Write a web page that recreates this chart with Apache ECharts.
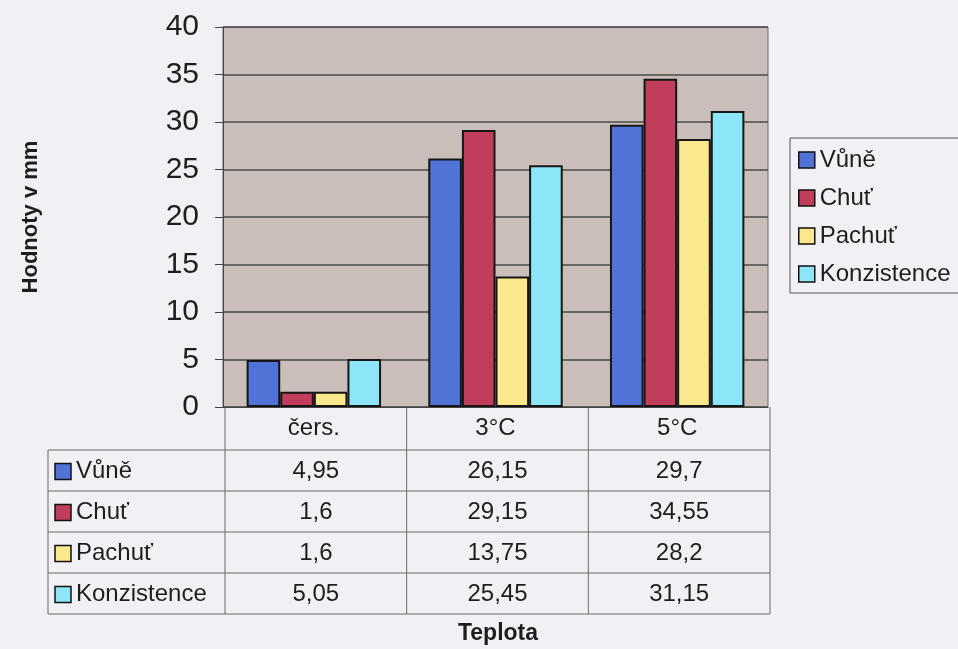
<!DOCTYPE html>
<html>
<head>
<meta charset="utf-8">
<script src="https://cdn.jsdelivr.net/npm/echarts@6/dist/echarts.min.js"></script>
<style>
  html, body { margin: 0; padding: 0; background: #f1f1f5; }
  #chart { width: 958px; height: 649px; }
</style>
</head>
<body>
<div id="chart"></div>
<script>
// Sensory scores by storage temperature
const categories = ['čers.', '3°C', '5°C'];
const seriesNames = ['Vůně', 'Chuť', 'Pachuť', 'Konzistence'];
const vune = [4.95, 26.15, 29.7];
const chut = [1.6, 29.15, 34.55];
const pachut = [1.6, 13.75, 28.2];
const konzistence = [5.05, 25.45, 31.15];
const yMin = 0, yMax = 40, yStep = 5;
const yTitle = 'Hodnoty v mm';
const xTitle = 'Teplota';

const seriesValues = [vune, chut, pachut, konzistence];
const colors = ['#5073d8', '#c03d5c', '#fbe78c', '#8ce6f8'];
const FONT = '"Liberation Sans", Arial, sans-serif';
const INK = '#1e1e1e';

const chart = echarts.init(document.getElementById('chart'), null, { renderer: 'canvas' });

const gridBox = { left: 223, top: 27, width: 545, height: 380 };

const option = {
  backgroundColor: '#f1f1f5',
  animation: false,
  grid: {
    left: gridBox.left, top: gridBox.top, width: gridBox.width, height: gridBox.height,
    show: true, backgroundColor: '#c9beb9', borderColor: '#6d6d6d', borderWidth: 1
  },
  legend: {
    orient: 'vertical',
    left: 790, top: 138,
    padding: [10, 50, 7, 8],
    itemWidth: 16, itemHeight: 16, itemGap: 14,
    icon: 'rect',
    borderColor: '#555', borderWidth: 1,
    itemStyle: { borderColor: '#111', borderWidth: 1.5 },
    textStyle: { fontFamily: FONT, fontSize: 24, color: INK, lineHeight: 24, padding: [0, 0, 0, 0] },
    data: seriesNames
  },
  xAxis: {
    type: 'category',
    data: categories,
    axisLine: { lineStyle: { color: '#444', width: 1 } },
    axisTick: { show: false },
    axisLabel: { fontFamily: FONT, fontSize: 24, color: INK, margin: 9 }
  },
  yAxis: {
    type: 'value',
    min: yMin, max: yMax, interval: yStep,
    name: yTitle,
    nameLocation: 'middle',
    nameGap: 181,
    nameTextStyle: { fontFamily: FONT, fontSize: 22, fontWeight: 'bold', color: INK },
    axisLine: { show: true, lineStyle: { color: '#444', width: 1 } },
    axisTick: { show: true, length: 8, lineStyle: { color: '#444' } },
    axisLabel: { fontFamily: FONT, fontSize: 30, color: INK, margin: 24 },
    splitLine: { lineStyle: { color: '#4a4a4a', width: 1.5 } }
  },
  series: seriesNames.map((name, i) => ({
    name,
    type: 'bar',
    data: seriesValues[i],
    barGap: '0%',
    barCategoryGap: '26%',
    itemStyle: { color: colors[i], borderColor: '#161616', borderWidth: 2 }
  }))
};

chart.setOption(option);

// Data table under the plot, aligned with the category bands
function buildTable() {
  const centers = categories.map((c, i) => chart.convertToPixel({ xAxisIndex: 0 }, i));
  const band = gridBox.width / categories.length;
  const bounds = [centers[0] - band / 2].concat(centers.map(c => c + band / 2));
  const axisY = gridBox.top + gridBox.height;
  const rowTop = 450, rowH = 41;
  const tableLeft = 48;
  const rowsBottom = rowTop + rowH * seriesNames.length;
  const lineStyle = { stroke: '#6a6a6a', lineWidth: 1 };
  const els = [];

  // column separators
  bounds.forEach(x => {
    els.push({ type: 'line', shape: { x1: x + 2, y1: axisY, x2: x + 2, y2: rowsBottom }, style: lineStyle, silent: true });
  });
  // left edge of the label column
  els.push({ type: 'line', shape: { x1: tableLeft, y1: rowTop, x2: tableLeft, y2: rowsBottom }, style: lineStyle, silent: true });
  // row separators
  for (let r = 0; r <= seriesNames.length; r++) {
    const y = rowTop + r * rowH;
    els.push({ type: 'line', shape: { x1: tableLeft, y1: y, x2: bounds[bounds.length - 1] + 2, y2: y }, style: lineStyle, silent: true });
  }
  // rows: legend key, series name, values
  seriesNames.forEach((name, r) => {
    const cy = rowTop + r * rowH + rowH / 2 + 1;
    els.push({
      type: 'rect', shape: { x: 55, y: cy - 8, width: 16, height: 16 },
      style: { fill: colors[r], stroke: '#111', lineWidth: 1.5 }, silent: true
    });
    els.push({
      type: 'text', silent: true,
      style: { text: name, x: 76, y: cy, align: 'left', verticalAlign: 'middle', fontFamily: FONT, fontSize: 24, fill: INK }
    });
    seriesValues[r].forEach((v, c) => {
      els.push({
        type: 'text', silent: true,
        style: { text: String(v).replace('.', ','), x: centers[c] + 2, y: cy, align: 'center', verticalAlign: 'middle', fontFamily: FONT, fontSize: 24, fill: INK }
      });
    });
  });
  // horizontal axis title
  els.push({
    type: 'text', silent: true,
    style: { text: xTitle, x: 498, y: 634, align: 'center', verticalAlign: 'middle', fontFamily: FONT, fontSize: 23, fontWeight: 'bold', fill: INK }
  });
  chart.setOption({ graphic: { elements: els } });
}
buildTable();
</script>
</body>
</html>
